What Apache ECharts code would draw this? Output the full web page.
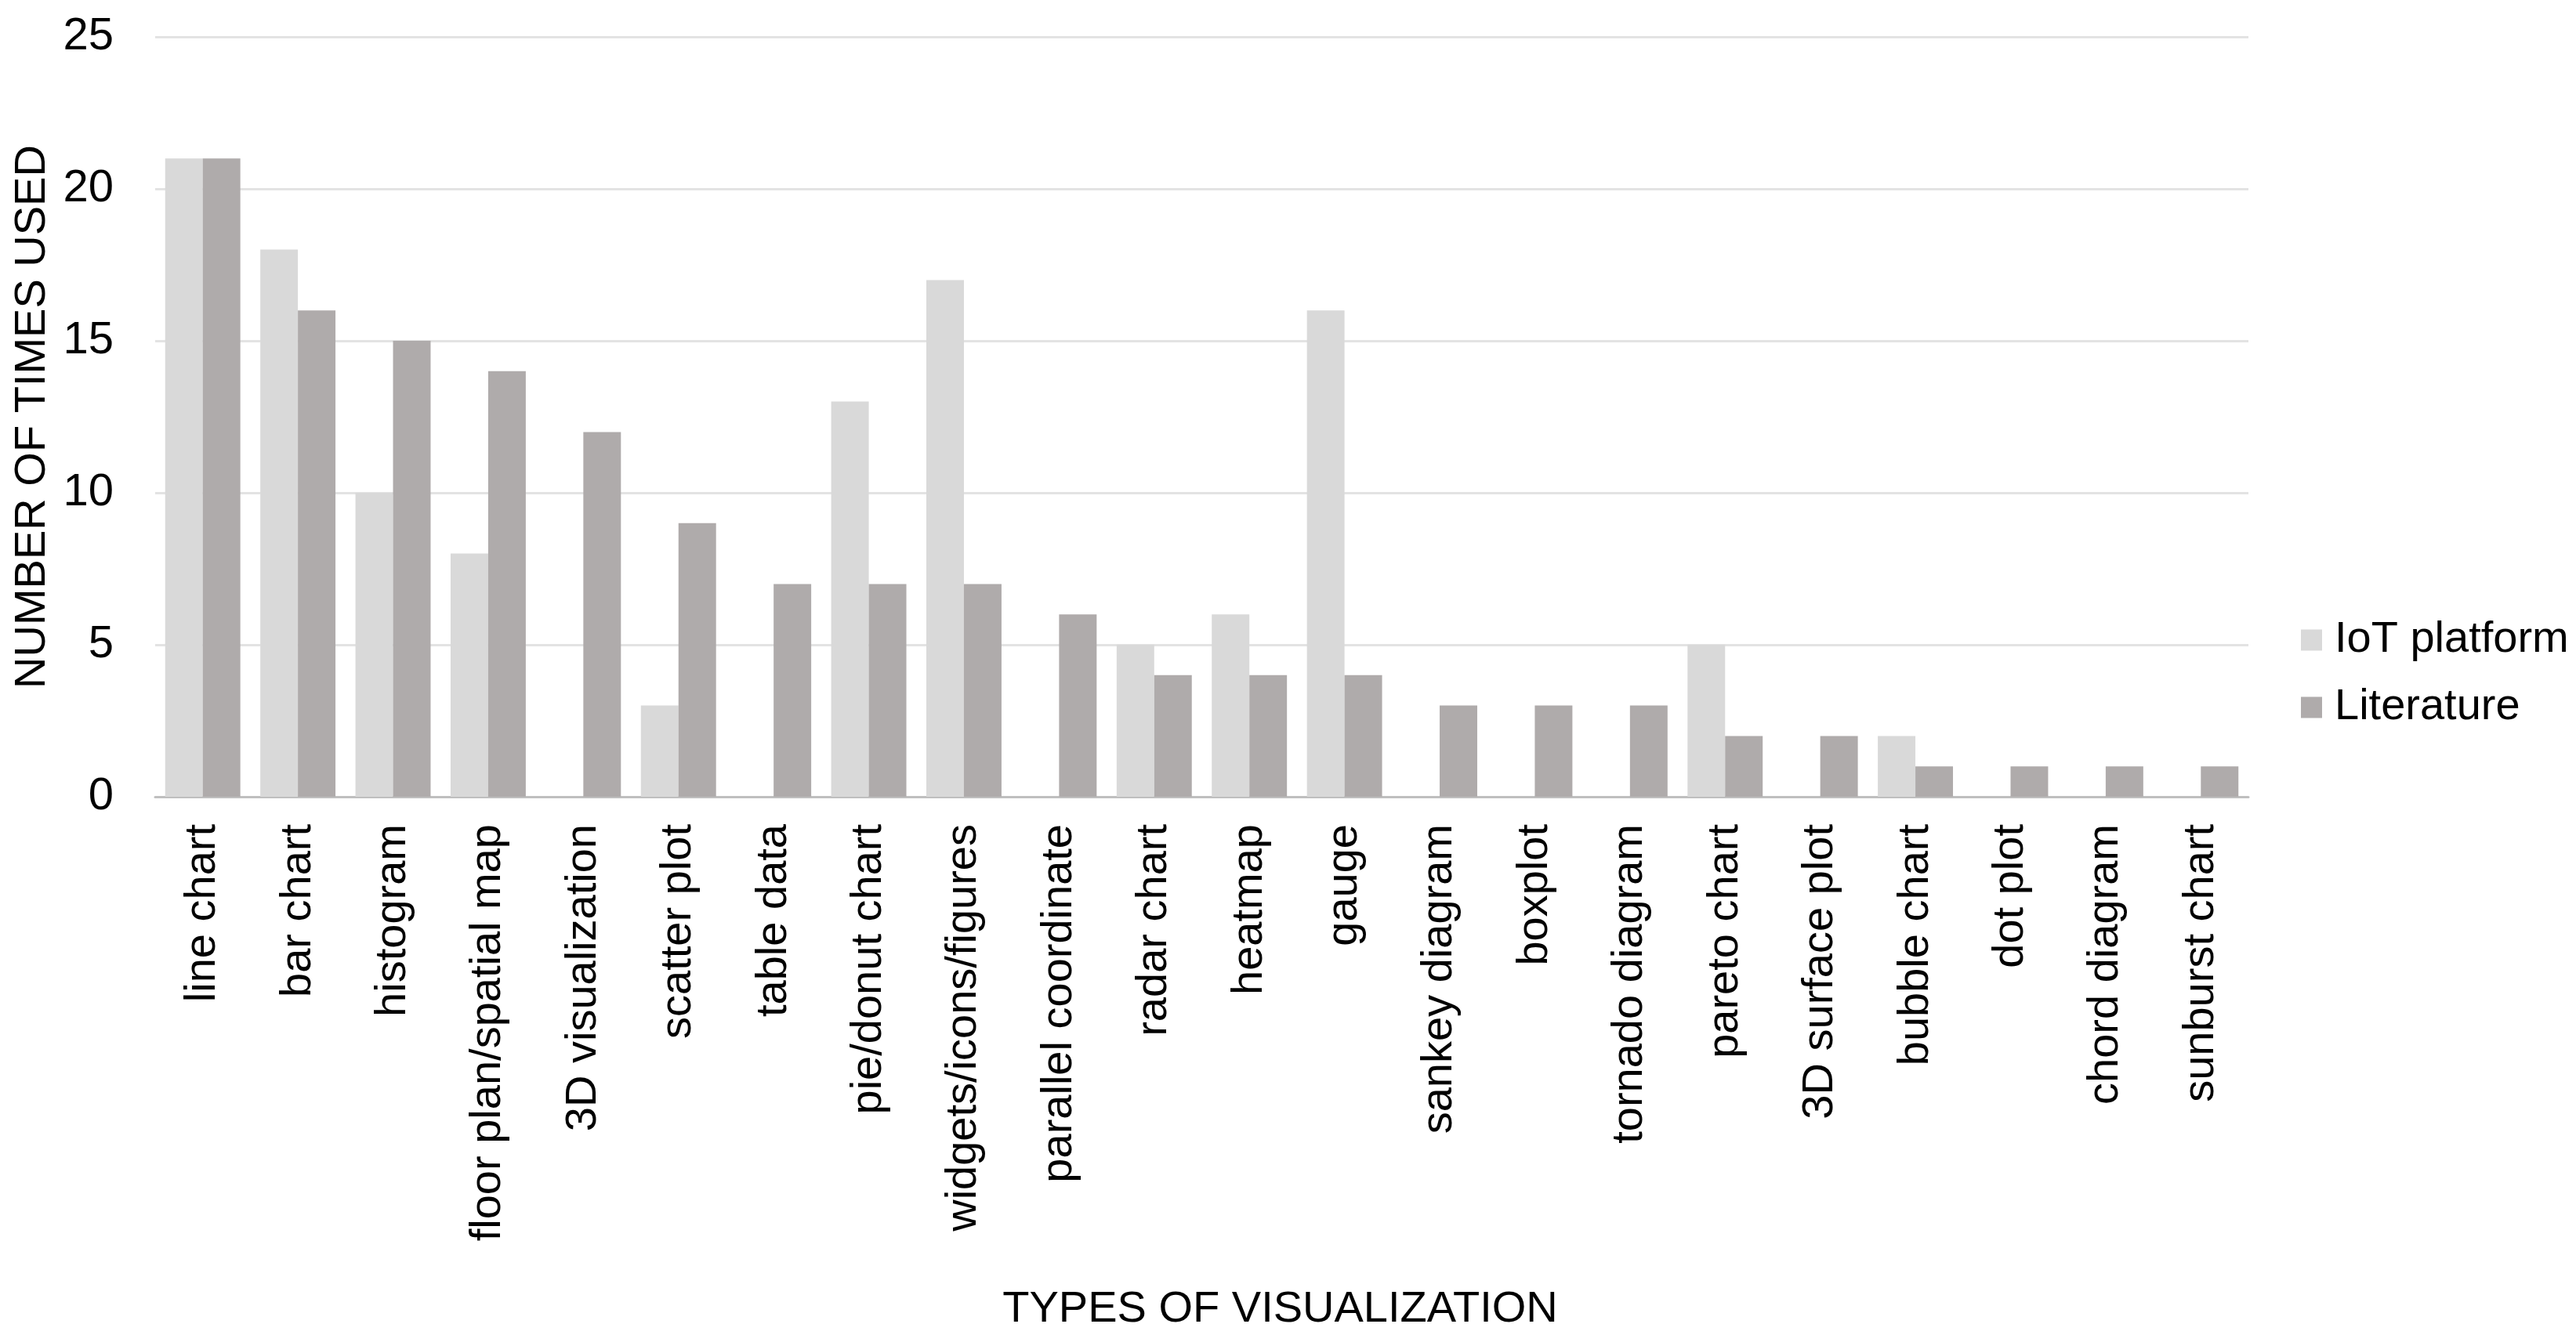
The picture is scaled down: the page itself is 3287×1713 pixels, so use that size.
<!DOCTYPE html>
<html>
<head>
<meta charset="utf-8">
<script src="https://cdn.jsdelivr.net/npm/echarts@6/dist/echarts.min.js"></script>
<style>
html,body{margin:0;padding:0;background:#fff;}
#chart{width:3287px;height:1713px;}
</style>
</head>
<body>
<div id="chart"></div>
<script>
const categories = ["line chart","bar chart","histogram","floor plan/spatial map","3D visualization","scatter plot","table data","pie/donut chart","widgets/icons/figures","parallel coordinate","radar chart","heatmap","gauge","sankey diagram","boxplot","tornado diagram","pareto chart","3D surface plot","bubble chart","dot plot","chord diagram","sunburst chart"];
const iotPlatform = [21,18,10,8,0,3,0,13,17,0,5,6,16,0,0,0,5,0,2,0,0,0];
const literature = [21,16,15,14,12,9,7,7,7,6,4,4,4,3,3,3,2,2,1,1,1,1];
const seriesNames = ["IoT platform","Literature"];
const yTicks = [0,5,10,15,20,25];
const xTitle = "TYPES OF VISUALIZATION";
const yTitle = "NUMBER OF TIMES USED";

const FONT = "Liberation Sans";
const chart = echarts.init(document.getElementById('chart'), null, {renderer:'canvas'});
chart.setOption({
  animation:false,
  backgroundColor:'#ffffff',
  textStyle:{fontFamily:FONT},
  legend:{
    orient:'vertical',
    left:2931, top:782,
    itemWidth:27, itemHeight:27, itemGap:26,
    icon:'rect',
    textStyle:{fontFamily:FONT,fontSize:56,color:'#000',lineHeight:60,padding:[0,0,0,11]},
    data:seriesNames
  },
  grid:{left:198, top:47, width:2671, height:970, containLabel:false},
  xAxis:{
    type:'category',
    data:categories,
    name:xTitle,
    nameLocation:'middle',
    nameGap:627,
    nameTextStyle:{fontFamily:FONT,fontSize:56,color:'#000',padding:[0,0,0,200]},
    axisLine:{show:true,lineStyle:{color:'#bfbfbf',width:3}},
    axisTick:{show:false},
    axisLabel:{rotate:90,fontFamily:FONT,fontSize:56,color:'#000',margin:35,interval:0}
  },
  yAxis:{
    type:'value',
    min:yTicks[0], max:yTicks[yTicks.length-1], interval:5,
    name:yTitle,
    nameLocation:'middle',
    nameGap:122,
    nameTextStyle:{fontFamily:FONT,fontSize:56,color:'#000'},
    axisLine:{show:false},
    axisTick:{show:false},
    axisLabel:{fontFamily:FONT,fontSize:58,color:'#000',margin:53},
    splitLine:{show:true,lineStyle:{color:'#e3e3e3',width:3}}
  },
  series:[
    {name:seriesNames[0],type:'bar',data:iotPlatform,barGap:'0%',barCategoryGap:'21%',itemStyle:{color:'#d9d9d9'}},
    {name:seriesNames[1],type:'bar',data:literature,barGap:'0%',barCategoryGap:'21%',itemStyle:{color:'#afabab'}}
  ]
});
</script>
</body>
</html>
